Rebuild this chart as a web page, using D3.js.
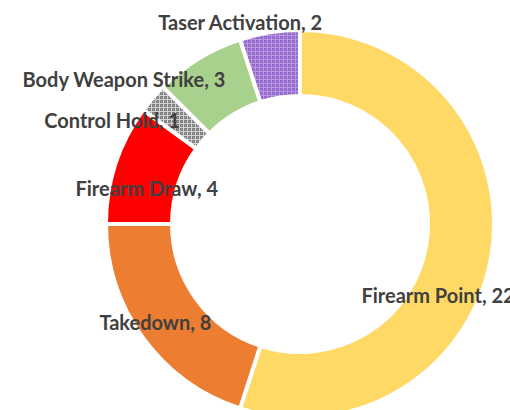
<!DOCTYPE html>
<html>
<head>
<meta charset="utf-8">
<script src="https://cdn.jsdelivr.net/npm/d3@7"></script>
<style>
  body { margin: 0; background: #fff; }
  svg { display: block; }
</style>
</head>
<body>
<script>
'use strict';

const width = 510;
const height = 410;

// chart data
const categories = ['Firearm Point', 'Takedown', 'Firearm Draw', 'Control Hold', 'Body Weapon Strike', 'Taser Activation'];
const counts = [22, 8, 4, 1, 3, 2];

// styling per slice (fill or pattern id) and label nudges from the centroid
const fills = ['#ffd966', '#ed7d31', '#ff0000', 'url(#patGray)', '#a9d18e', 'url(#patPurple)'];
const labelDx = [-19, -16, -2, -67, -93, -35];
const labelDy = [46, 5, 13, -1, -9, -45];

const cx = 300;
const cy = 224;
const outerR = 194;
const innerR = 128;

const data = categories.map((c, i) => ({ name: c, value: counts[i], i: i }));

const svg = d3.select('body')
  .append('svg')
  .attr('width', width)
  .attr('height', height);

const defs = svg.append('defs');

// small grid pattern, gray
const pg = defs.append('pattern')
  .attr('id', 'patGray')
  .attr('width', 4).attr('height', 4)
  .attr('patternUnits', 'userSpaceOnUse');
pg.append('rect').attr('width', 4).attr('height', 4).attr('fill', '#d4d4d4');
pg.append('rect').attr('x', 0).attr('y', 0).attr('width', 3).attr('height', 3).attr('fill', '#7f7f7f');
pg.append('rect').attr('x', 1).attr('y', 1).attr('width', 1).attr('height', 1).attr('fill', '#a6a6a6');

// small grid pattern, purple
const pp = defs.append('pattern')
  .attr('id', 'patPurple')
  .attr('width', 4).attr('height', 4)
  .attr('patternUnits', 'userSpaceOnUse');
pp.append('rect').attr('width', 4).attr('height', 4).attr('fill', '#b998e2');
pp.append('rect').attr('x', 0).attr('y', 0).attr('width', 3).attr('height', 3).attr('fill', '#9367cc');
pp.append('rect').attr('x', 1).attr('y', 1).attr('width', 1).attr('height', 1).attr('fill', '#a57fd6');

const pie = d3.pie()
  .value((d) => d.value)
  .sort(null);

const arc = d3.arc()
  .innerRadius(innerR)
  .outerRadius(outerR);

const g = svg.append('g')
  .attr('transform', `translate(${cx}, ${cy})`);

const arcs = pie(data);

g.selectAll('path.slice')
  .data(arcs)
  .enter()
  .append('path')
  .attr('class', 'slice')
  .attr('d', arc)
  .attr('fill', (d) => fills[d.data.i])
  .attr('stroke', '#ffffff')
  .attr('stroke-width', 4)
  .attr('stroke-linejoin', 'miter');

const labelArc = d3.arc()
  .innerRadius((innerR + outerR) / 2 - 2)
  .outerRadius((innerR + outerR) / 2 - 2);

g.selectAll('text.label')
  .data(arcs)
  .enter()
  .append('text')
  .attr('class', 'label')
  .text((d) => `${d.data.name}, ${d.data.value}`)
  .attr('text-anchor', 'middle')
  .attr('dominant-baseline', 'central')
  .attr('x', (d) => labelArc.centroid(d)[0] + labelDx[d.data.i])
  .attr('y', (d) => labelArc.centroid(d)[1] + labelDy[d.data.i])
  .attr('font-family', 'Lato, sans-serif')
  .attr('font-weight', 'bold')
  .attr('font-size', '20px')
  .attr('fill', '#404040');
</script>
</body>
</html>
